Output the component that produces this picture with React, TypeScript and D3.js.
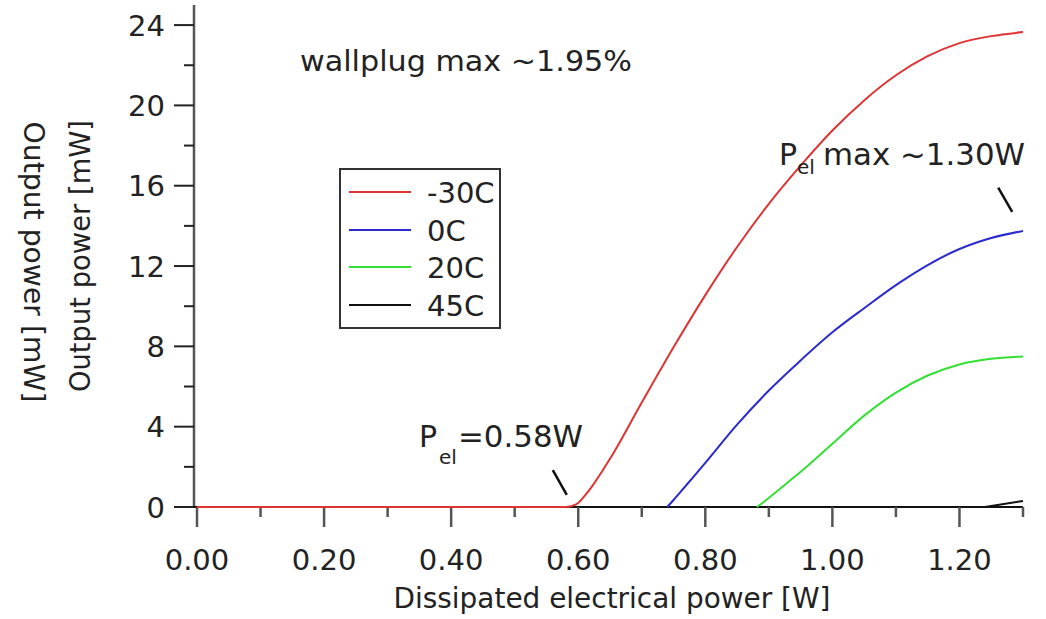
import React from "react";
import * as d3 from "d3";

// ---- data ----
const xM30 = [0, 0.58, 0.59, 0.6, 0.61, 0.62, 0.65, 0.7, 0.75, 0.8, 0.85, 0.9, 0.95, 1.0, 1.05, 1.1, 1.15, 1.2, 1.25, 1.3];
const yM30 = [0, 0, 0.05, 0.2, 0.55, 0.95, 2.4, 5.2, 7.95, 10.55, 12.95, 15.1, 17.0, 18.75, 20.25, 21.5, 22.45, 23.1, 23.45, 23.65];

const x0C = [0.74, 0.75, 0.76, 0.78, 0.8, 0.85, 0.9, 0.95, 1.0, 1.05, 1.1, 1.15, 1.2, 1.25, 1.3];
const y0C = [0, 0.35, 0.72, 1.45, 2.2, 4.1, 5.8, 7.3, 8.7, 9.9, 11.05, 12.05, 12.85, 13.4, 13.75];

const x20C = [0.881, 0.89, 0.9, 0.925, 0.95, 1.0, 1.05, 1.1, 1.15, 1.2, 1.25, 1.3];
const y20C = [0, 0.2, 0.45, 1.1, 1.75, 3.15, 4.55, 5.7, 6.55, 7.1, 7.38, 7.5];

const x45C = [1.24, 1.3];
const y45C = [0, 0.3];

const seriesNames = ["-30C", "0C", "20C", "45C"];
const seriesColors = ["#e03434", "#2a2ad0", "#34e034", "#111111"];

const xMajorTicks = [0, 0.2, 0.4, 0.6, 0.8, 1.0, 1.2];
const xMinorTicks = [0.1, 0.3, 0.5, 0.7, 0.9, 1.1, 1.3];
const yMajorTicks = [0, 4, 8, 12, 16, 20, 24];
const yMinorTicks = [2, 6, 10, 14, 18, 22];

// annotation marker segments, in data space
const markerLow = [[0.56, 1.84], [0.582, 0.6]];
const markerHigh = [[1.261, 15.9], [1.283, 14.7]];

const FONT = "'DejaVu Sans', Verdana, sans-serif";

export default function App() {
  const x = d3.scaleLinear().domain([0, 1.3]).range([197, 1023]);
  const y = d3.scaleLinear().domain([0, 25]).range([507, 5]);
  const yAxisX = 194;

  const line = d3
    .line<[number, number]>()
    .x((d) => x(d[0]))
    .y((d) => y(d[1]))
    .curve(d3.curveMonotoneX);

  const series = [
    xM30.map((v, i) => [v, yM30[i]] as [number, number]),
    x0C.map((v, i) => [v, y0C[i]] as [number, number]),
    x20C.map((v, i) => [v, y20C[i]] as [number, number]),
    x45C.map((v, i) => [v, y45C[i]] as [number, number]),
  ];

  const legendX = 340, legendY = 169;
  const legendRows = [192, 230, 267, 305];

  return (
    <svg
      width={1046}
      height={619}
      style={{ position: "absolute", left: 0, top: 0, background: "#fff" }}
      fontFamily={FONT}
    >
      <rect x={0} y={0} width={1046} height={619} fill="#fff" />

      {/* y axis */}
      <line x1={yAxisX} x2={yAxisX} y1={y(25)} y2={y(0)} stroke="#555" strokeWidth={2.5} />
      {yMajorTicks.map((t) => (
        <g key={"ym" + t}>
          <line x1={yAxisX - 20} x2={yAxisX} y1={y(t)} y2={y(t)} stroke="#222" strokeWidth={2} />
          <text x={165} y={y(t) + 10.5} textAnchor="end" fontSize={29} fill="#222">
            {t}
          </text>
        </g>
      ))}
      {yMinorTicks.map((t) => (
        <line key={"yn" + t} x1={yAxisX - 10} x2={yAxisX} y1={y(t)} y2={y(t)} stroke="#222" strokeWidth={2} />
      ))}

      {/* x axis */}
      <line x1={yAxisX} x2={x(1.3)} y1={y(0)} y2={y(0)} stroke="#111" strokeWidth={2} />
      {xMajorTicks.map((t) => (
        <g key={"xm" + t}>
          <line x1={x(t)} x2={x(t)} y1={y(0)} y2={y(0) + 20} stroke="#555" strokeWidth={2.5} />
          <text x={x(t)} y={570} textAnchor="middle" fontSize={29} fill="#222">
            {t.toFixed(2)}
          </text>
        </g>
      ))}
      {xMinorTicks.map((t) => (
        <line key={"xn" + t} x1={x(t)} x2={x(t)} y1={y(0)} y2={y(0) + 10} stroke="#555" strokeWidth={2.5} />
      ))}

      {/* axis titles */}
      <text x={612} y={608} textAnchor="middle" fontSize={28} fill="#222" textLength={437} lengthAdjust="spacingAndGlyphs">
        Dissipated electrical power [W]
      </text>
      <text
        transform="translate(24,262) rotate(90)"
        textAnchor="middle"
        fontSize={28}
        fill="#222"
        textLength={281}
        lengthAdjust="spacingAndGlyphs"
      >
        Output power [mW]
      </text>
      <text
        transform="translate(90,256) rotate(-90)"
        textAnchor="middle"
        fontSize={28}
        fill="#222"
        textLength={272}
        lengthAdjust="spacingAndGlyphs"
      >
        Output power [mW]
      </text>

      {/* curves */}
      {series.map((pts, i) => (
        <path key={seriesNames[i]} d={line(pts) || ""} fill="none" stroke={seriesColors[i]} strokeWidth={2} />
      ))}

      {/* annotation markers */}
      {[markerLow, markerHigh].map((m, i) => (
        <line
          key={"mk" + i}
          x1={x(m[0][0])}
          y1={y(m[0][1])}
          x2={x(m[1][0])}
          y2={y(m[1][1])}
          stroke="#111"
          strokeWidth={2.5}
        />
      ))}

      {/* annotations */}
      <text x={300} y={71} fontSize={29} fill="#222" textLength={332} lengthAdjust="spacingAndGlyphs">
        wallplug max ~1.95%
      </text>
      <text x={419} y={447} fontSize={30} fill="#222">
        P
      </text>
      <text x={439} y={464} fontSize={20} fill="#222">
        el
      </text>
      <text x={458} y={447} fontSize={30} fill="#222" textLength={125} lengthAdjust="spacingAndGlyphs">
        =0.58W
      </text>
      <text x={779} y={165} fontSize={30} fill="#222">
        P
      </text>
      <text x={797} y={174} fontSize={20} fill="#222">
        el
      </text>
      <text x={823} y={165} fontSize={30} fill="#222" textLength={202} lengthAdjust="spacingAndGlyphs">
        max ~1.30W
      </text>

      {/* legend */}
      <rect x={legendX} y={legendY} width={160} height={159} fill="#fff" stroke="#333" strokeWidth={2} />
      {seriesNames.map((n, i) => (
        <g key={"lg" + n}>
          <line x1={349} x2={411} y1={legendRows[i]} y2={legendRows[i]} stroke={seriesColors[i]} strokeWidth={2} />
          <text x={427} y={legendRows[i] + 10.5} fontSize={29} fill="#222">
            {n}
          </text>
        </g>
      ))}
    </svg>
  );
}
